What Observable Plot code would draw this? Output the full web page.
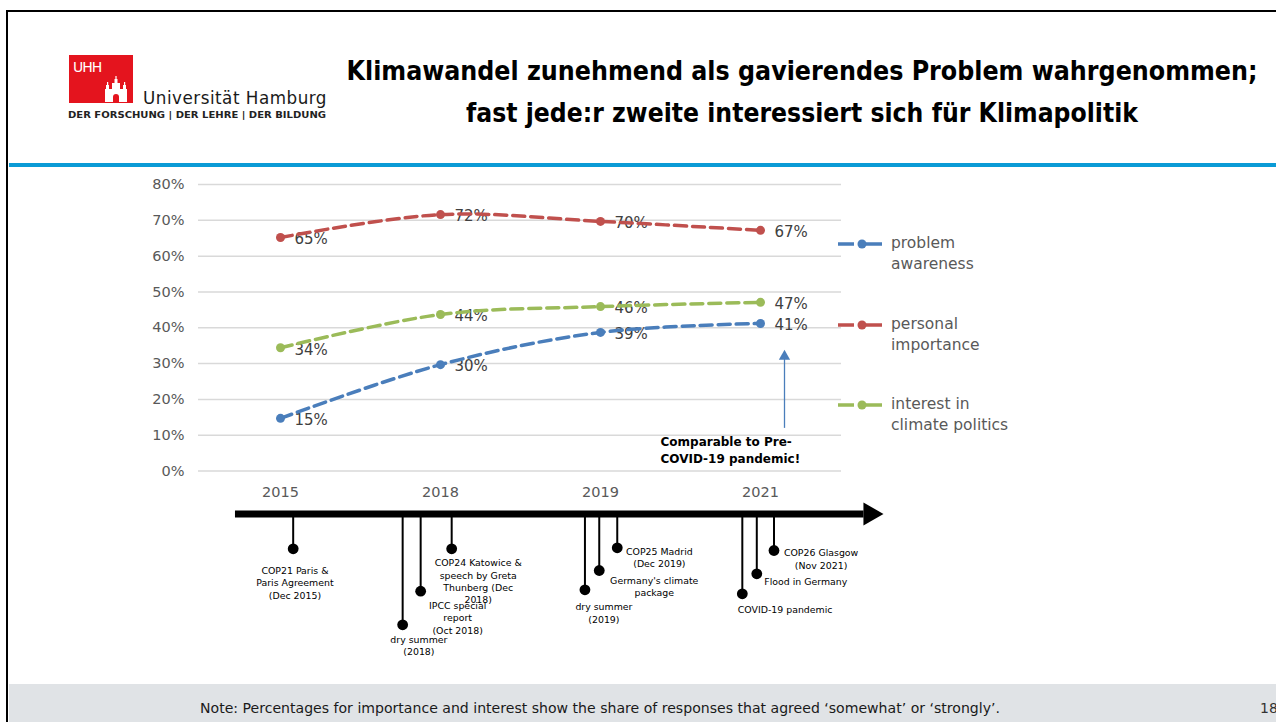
<!DOCTYPE html>
<html><head><meta charset="utf-8">
<script src="https://cdn.jsdelivr.net/npm/d3@7"></script>
<script src="https://cdn.jsdelivr.net/npm/@observablehq/plot@0.6"></script>
<style>
html,body{margin:0;padding:0;background:#fff;}
body{width:1276px;height:722px;overflow:hidden;position:relative;font-family:"DejaVu Sans",sans-serif;}
.abs{position:absolute;}
.fit{position:absolute;white-space:nowrap;line-height:1;}
.leg{position:absolute;font-size:15.5px;color:#595959;line-height:21px;}
</style></head><body>
<div class="abs" style="left:6px;top:9.5px;width:1300px;height:730px;border-left:2.5px solid #000;border-top:2.5px solid #000;"></div>
<div class="abs" style="left:8.5px;top:684px;width:1270px;height:38px;background:#e0e3e6;"></div>
<div class="abs" style="left:8.5px;top:163px;width:1270px;height:3.5px;background:#0a9bd6;"></div>

<svg class="abs" style="left:69px;top:55px" width="64" height="48" viewBox="0 0 64 48">
  <rect width="64" height="48" fill="#e4141e"/>
  <text x="4" y="17" fill="#fff" font-size="14" font-family="DejaVu Sans" letter-spacing="-1">UHH</text>
  <g fill="#fff">
    <rect x="36" y="34" width="22" height="13"/>
    <rect x="43" y="28" width="8" height="7"/>
    <rect x="37" y="30" width="3" height="5"/>
    <rect x="54" y="30" width="3" height="5"/>
    <rect x="45.5" y="24" width="3" height="5"/>
    <rect x="38" y="27" width="1.2" height="3"/>
    <rect x="55" y="27" width="1.2" height="3"/>
    <rect x="46.4" y="21" width="1.2" height="3"/>
  </g>
  <path d="M44 47 v-5 a3 3 0 0 1 6 0 v5 z" fill="#e4141e"/>
</svg>
<div class="fit" data-w="184" data-lx="143" style="left:143px;top:98px;font-size:17px;color:#1a1a1a;letter-spacing:0.5px;">Universität Hamburg</div>
<div class="fit" data-w="258" data-lx="68" style="left:68px;top:115px;font-size:9px;font-weight:bold;color:#222;">DER FORSCHUNG  |  DER LEHRE  |  DER BILDUNG</div>

<div class="fit" data-w="911" data-cx="802" style="left:802px;top:70px;font-size:27px;font-weight:bold;color:#000;">Klimawandel zunehmend als gavierendes Problem wahrgenommen;</div>
<div class="fit" data-w="672" data-cx="802" style="left:802px;top:112px;font-size:27px;font-weight:bold;color:#000;">fast jede:r zweite interessiert sich für Klimapolitik</div>

<div id="chart" class="abs" style="left:0;top:160px;"></div>
<div id="timeline" class="abs" style="left:0;top:500px;"></div>
<div id="legend"></div>

<div class="fit" data-w="800" data-cx="600" style="left:600px;top:708px;font-size:14px;color:#1a1a1a;">Note: Percentages for importance and interest show the share of responses that agreed ‘somewhat’ or ‘strongly’.</div>
<div class="fit" data-lx="1260" style="left:1260px;top:708px;font-size:14px;color:#333;">18</div>

<script>
// ---------- data ----------
const years = ["2015", "2018", "2019", "2021"];
const seriesNames = ["problem awareness", "personal importance", "interest in climate politics"];
const legendLines = [["problem", "awareness"], ["personal", "importance"], ["interest in", "climate politics"]];
const problemAwareness = [14.7, 29.7, 38.7, 41.2];
const personalImportance = [65.2, 71.6, 69.7, 67.2];
const interestInPolitics = [34.4, 43.7, 45.9, 47.1];
const yTicks = [0, 10, 20, 30, 40, 50, 60, 70, 80];
const seriesColors = ["#4a7ebb", "#c0504d", "#9bbb59"];

// annotation on the 2021 value
const annotationYear = "2021";
const annotationText = "Comparable to Pre-\nCOVID-19 pandemic!";
const annotationArrowFrom = 11.9;
const annotationArrowTo = 32.0;
const annotationTextAt = 6.1;

// timeline (positions in survey-wave slots: 0 = 2015, 1 = 2018, 2 = 2019, 3 = 2021)
const timelineSpan = [-0.27, 3.64];
const timelineHeadAt = 3.678;
const eventNames = [
  "COP21 Paris &\nParis Agreement\n(Dec 2015)",
  "dry summer\n(2018)",
  "IPCC special\nreport\n(Oct 2018)",
  "COP24 Katowice &\nspeech by Greta\nThunberg (Dec\n2018)",
  "dry summer\n(2019)",
  "Germany's climate\npackage",
  "COP25 Madrid\n(Dec 2019)",
  "COVID-19 pandemic",
  "Flood in Germany",
  "COP26 Glasgow\n(Nov 2021)"
];
const eventSlot = [0.089, 0.770, 0.882, 1.075, 1.904, 1.993, 2.105, 2.883, 2.973, 3.080];
const eventLevel = [34.8, 110.8, 77.2, 34.8, 75.8, 56.5, 33.8, 79.8, 59.8, 36.5];
// label placement (layout)
const labelSlot = [0.100, 0.871, 1.112, 1.240, 2.022, 2.335, 2.367, 3.149, 3.278, 3.373];
const labelLevel = [57.5, 126.5, 92.5, 49.8, 93.8, 67.2, 38.2, 96.5, 68.2, 39.8];

// ---------- tables ----------
const seriesValues = [problemAwareness, personalImportance, interestInPolitics];
const rows = [];
seriesNames.forEach((s, i) => years.forEach((y, j) => rows.push({series: s, year: y, value: seriesValues[i][j]})));
const events = eventNames.map((name, i) => ({name, slot: eventSlot[i], level: eventLevel[i], lx: labelSlot[i], ly: labelLevel[i]}));

const W = 880, ML = 198, MR = 39;

// ---------- main chart ----------
const chart = Plot.plot({
  width: W, height: 350,
  marginLeft: ML, marginRight: MR, marginTop: 24, marginBottom: 39.5,
  style: {fontFamily: "DejaVu Sans", background: "transparent", overflow: "visible"},
  x: {type: "point", domain: years, padding: 0.5, label: null, tickSize: 0, tickPadding: 15.5},
  y: {domain: [0, 80], ticks: yTicks, tickFormat: d => d + "%", label: null, tickSize: 0, tickPadding: 14},
  color: {domain: seriesNames, range: seriesColors},
  marks: [
    Plot.gridY(yTicks, {stroke: "#d9d9d9", strokeOpacity: 1, strokeWidth: 1.5}),
    Plot.axisY({ticks: yTicks, tickFormat: d => d + "%", tickSize: 0, tickPadding: 14, fontSize: 14.5, fill: "#595959", label: null}),
    Plot.axisX({tickSize: 0, tickPadding: 15.5, fontSize: 14.5, fill: "#595959", label: null}),
    Plot.text(rows, {x: "year", y: "value", text: d => Math.round(d.value) + "%", dx: 14, dy: 2, textAnchor: "start", fill: "#404040", fontSize: 15}),
    Plot.line(rows, {x: "year", y: "value", z: "series", stroke: "series", curve: "catmull-rom", strokeWidth: 3.5, strokeDasharray: "12,6"}),
    Plot.dot(rows, {x: "year", y: "value", fill: "series", r: 4.5}),
    Plot.ruleX([annotationYear], {x: d => d, y1: () => annotationArrowFrom, y2: () => annotationArrowTo, dx: 24, stroke: "#4a7ebb", strokeWidth: 1.3}),
    Plot.dot([annotationYear], {x: d => d, y: () => annotationArrowTo, dx: 24, symbol: "triangle", r: 4.2, fill: "#4a7ebb"}),
    Plot.text([annotationText], {x: () => annotationYear, y: () => annotationTextAt, dx: -100, text: d => d, textAnchor: "start", lineAnchor: "middle", fontWeight: "bold", fontSize: 12, lineHeight: 1.42, fill: "#000"})
  ]
});
document.getElementById("chart").append(chart);

// ---------- timeline ----------
const tl = Plot.plot({
  width: W, height: 175,
  marginLeft: ML, marginRight: MR, marginTop: 13.5, marginBottom: 1.5,
  style: {fontFamily: "DejaVu Sans", background: "transparent", overflow: "visible"},
  x: {type: "linear", domain: [-0.5, 3.5], axis: null},
  y: {domain: [0, 160], reverse: true, axis: null},
  marks: [
    Plot.ruleY([timelineSpan], {x1: d => d[0], x2: d => d[1], y: () => 0, stroke: "#000", strokeWidth: 7}),
    Plot.dot([timelineHeadAt], {x: d => d, y: () => 0, symbol: "triangle", rotate: 90, r: 8.6, fill: "#000"}),
    Plot.ruleX(events, {x: "slot", y1: () => 0, y2: "level", stroke: "#000", strokeWidth: 2}),
    Plot.dot(events, {x: "slot", y: "level", r: 5.4, fill: "#000"}),
    Plot.text(events, {x: "lx", y: "ly", text: "name", lineAnchor: "top", dy: -6, fontSize: 9.4, lineHeight: 1.3, fill: "#000"})
  ]
});
document.getElementById("timeline").append(tl);

// ---------- legend ----------
const legend = document.getElementById("legend");
const legendY = [244, 325, 405];
seriesNames.forEach((s, i) => {
  const svgNS = "http://www.w3.org/2000/svg";
  const sv = document.createElementNS(svgNS, "svg");
  sv.setAttribute("width", 46); sv.setAttribute("height", 12);
  sv.style.position = "absolute"; sv.style.left = "837px"; sv.style.top = (legendY[i] - 6) + "px";
  sv.innerHTML = `<line x1="1" x2="45" y1="6" y2="6" stroke="${seriesColors[i]}" stroke-width="3.5" stroke-dasharray="16,4,30"/><circle cx="25" cy="6" r="4.5" fill="${seriesColors[i]}"/>`;
  document.body.append(sv);
  const t = document.createElement("div");
  t.className = "leg";
  t.style.left = "891px"; t.style.top = (legendY[i] - 11) + "px";
  t.innerHTML = legendLines[i].join("<br>");
  legend.append(t);
});

// ---------- fit headline widths ----------
document.querySelectorAll(".fit").forEach(el => {
  const w = +el.dataset.w;
  const r = el.getBoundingClientRect().width;
  const k = w ? w / r : 1;
  if (el.dataset.cx) {
    el.style.transform = `translate(-50%,-50%) scaleX(${k})`;
  } else {
    el.style.transformOrigin = "left center";
    el.style.transform = `translateY(-50%) scaleX(${k})`;
  }
});
</script>
</body></html>
